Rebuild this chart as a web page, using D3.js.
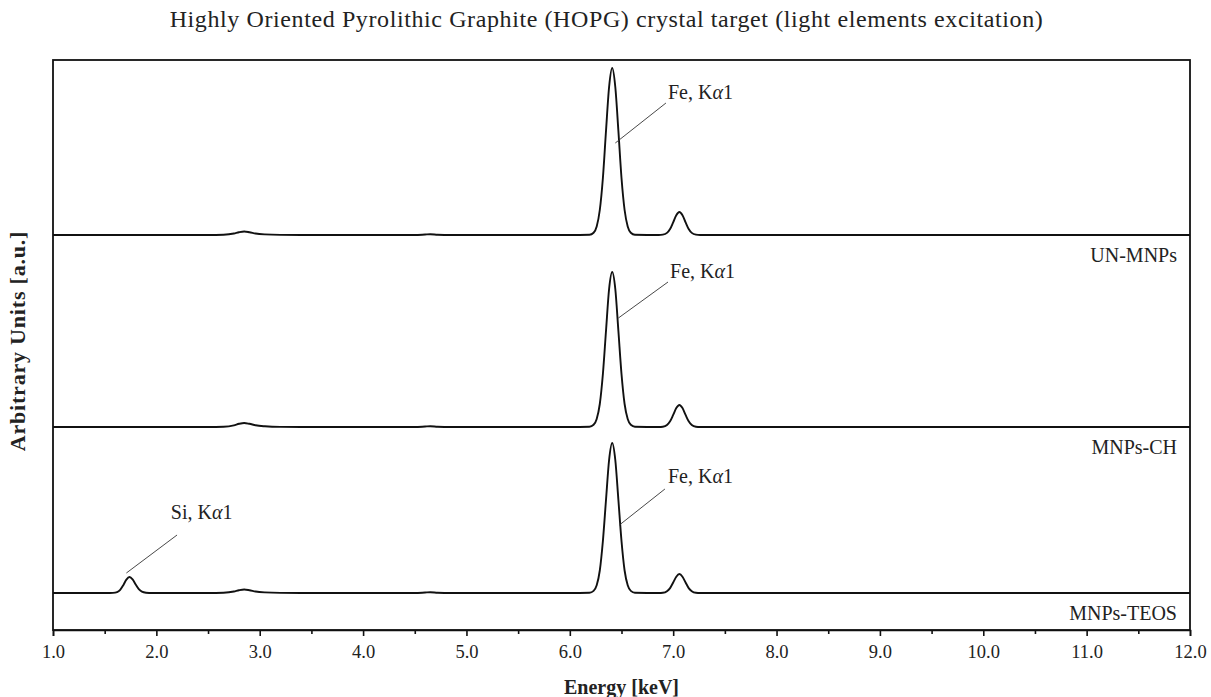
<!DOCTYPE html>
<html>
<head>
<meta charset="utf-8">
<script src="https://cdn.jsdelivr.net/npm/d3@7"></script>
<style>
  body { margin: 0; background: #fff; }
  svg text { font-family: "Liberation Serif", "DejaVu Serif", serif; fill: #222; }
  .axis text { font-size: 18.5px; }
  .axis path, .axis line { stroke: #111; stroke-width: 1.6; }
  .spectrum { fill: none; stroke: #111; stroke-width: 1.9; }
  .leader { stroke: #333; stroke-width: 0.9; }
</style>
</head>
<body>
<div id="chart"></div>
<script>
// energy axis ticks (keV)
const majorTicks = [1, 2, 3, 4, 5, 6, 7, 8, 9, 10, 11, 12];
const minorTicks = [1.5, 2.5, 3.5, 4.5, 5.5, 6.5, 7.5, 8.5, 9.5, 10.5, 11.5];

// sample names, stacking offsets (a.u.)
const sampleNames = ['UN-MNPs', 'MNPs-CH', 'MNPs-TEOS'];
const sampleOffsets = [395, 203, 37];

// spectra: [energy keV, intensity a.u. above own baseline]
const specUN = [
  [1.0, 0], [2.5, 0], [2.65, 0.3], [2.75, 1.5], [2.8, 2.8], [2.85, 3.5], [2.9, 2.8], [2.96, 1.5],
  [3.05, 0.6], [3.2, 0.1], [3.4, 0], [4.5, 0], [4.6, 0.5], [4.65, 0.8], [4.72, 0.3], [4.85, 0],
  [6.0, 0], [6.19, 0.3], [6.23, 2.3], [6.26, 8.6], [6.29, 25], [6.32, 57], [6.35, 104], [6.38, 148],
  [6.41, 167], [6.44, 148], [6.47, 104], [6.50, 57], [6.53, 25], [6.56, 8.6], [6.59, 2.3], [6.63, 0.3],
  [6.86, 0], [6.90, 0.35], [6.94, 2.1], [6.97, 6], [7.00, 12.7], [7.03, 19.8], [7.06, 23], [7.09, 19.8],
  [7.12, 12.7], [7.15, 6], [7.18, 2.1], [7.22, 0.35], [7.26, 0], [12.0, 0]
];
const specCH = [
  [1.0, 0], [2.5, 0], [2.65, 0.3], [2.75, 1.7], [2.8, 3.2], [2.85, 4], [2.9, 3.2], [2.96, 1.7],
  [3.05, 0.7], [3.2, 0.1], [3.4, 0], [4.5, 0], [4.6, 0.5], [4.65, 0.8], [4.72, 0.3], [4.85, 0],
  [6.0, 0], [6.19, 0.3], [6.23, 2.2], [6.26, 8], [6.29, 23], [6.32, 53], [6.35, 96], [6.38, 138],
  [6.41, 155], [6.44, 138], [6.47, 96], [6.50, 53], [6.53, 23], [6.56, 8], [6.59, 2.2], [6.63, 0.3],
  [6.86, 0], [6.90, 0.3], [6.94, 2.0], [6.97, 5.7], [7.00, 12.1], [7.03, 18.9], [7.06, 22], [7.09, 18.9],
  [7.12, 12.1], [7.15, 5.7], [7.18, 2.0], [7.22, 0.3], [7.26, 0], [12.0, 0]
];
const specTEOS = [
  [1.0, 0], [1.55, 0], [1.58, 0.1], [1.62, 0.9], [1.65, 3.2], [1.68, 7.8], [1.71, 13.4], [1.74, 16],
  [1.77, 13.6], [1.80, 8.5], [1.83, 3.8], [1.86, 1.3], [1.90, 0.3], [1.96, 0],
  [2.5, 0], [2.65, 0.3], [2.75, 1.5], [2.8, 2.8], [2.85, 3.5], [2.9, 2.8], [2.96, 1.5],
  [3.05, 0.6], [3.2, 0.1], [3.4, 0], [4.5, 0], [4.6, 0.5], [4.65, 0.8], [4.72, 0.3], [4.85, 0],
  [6.0, 0], [6.19, 0.3], [6.23, 2.1], [6.26, 7.7], [6.29, 22.5], [6.32, 52], [6.35, 93], [6.38, 133],
  [6.41, 150], [6.44, 133], [6.47, 93], [6.50, 52], [6.53, 22.5], [6.56, 7.7], [6.59, 2.1], [6.63, 0.3],
  [6.86, 0], [6.90, 0.25], [6.94, 1.8], [6.97, 4.9], [7.00, 10.5], [7.03, 16.3], [7.06, 19], [7.09, 16.3],
  [7.12, 10.5], [7.15, 4.9], [7.18, 1.8], [7.22, 0.25], [7.26, 0], [12.0, 0]
];
const spectra = [specUN, specCH, specTEOS];

// peak annotations: element, text anchor [keV, a.u.], leader from -> to [keV, a.u.]
const peakElements = ['Fe', 'Fe', 'Fe', 'Si'];
const peakText = [[6.95, 531], [6.97, 352], [6.95, 147], [2.14, 111]];
const peakLeaderFrom = [[6.93, 527], [6.95, 348], [6.92, 141], [2.20, 95]];
const peakLeaderTo = [[6.44, 487], [6.47, 312], [6.48, 105], [1.71, 57]];

const config = {
  containerWidth: 1211,
  containerHeight: 697,
  margin: {top: 60, right: 21, bottom: 67, left: 53}
};

const width = config.containerWidth - config.margin.left - config.margin.right;
const height = config.containerHeight - config.margin.top - config.margin.bottom;

const svg = d3.select('#chart').append('svg')
    .attr('width', config.containerWidth)
    .attr('height', config.containerHeight);

const chart = svg.append('g')
    .attr('transform', `translate(${config.margin.left},${config.margin.top})`);

const xScale = d3.scaleLinear().domain([1, 12]).range([0, width]);
const yScale = d3.scaleLinear().domain([0, 570]).range([height, 0]);

// title
svg.append('text')
    .attr('x', config.margin.left + width / 2 - 15)
    .attr('y', 27)
    .attr('text-anchor', 'middle')
    .style('font-size', '24px')
    .style('letter-spacing', '0.6px')
    .text('Highly Oriented Pyrolithic Graphite (HOPG) crystal target (light elements excitation)');

// axes
const xAxis = d3.axisBottom(xScale)
    .tickValues(majorTicks)
    .tickSize(6)
    .tickPadding(9)
    .tickFormat(d3.format('.1f'));

const xMinor = d3.axisBottom(xScale)
    .tickValues(minorTicks)
    .tickSize(4)
    .tickFormat('');

chart.append('g')
    .attr('class', 'axis x-axis')
    .attr('transform', `translate(0,${height})`)
    .call(xAxis);

chart.append('g')
    .attr('class', 'axis x-minor')
    .attr('transform', `translate(0,${height})`)
    .call(xMinor)
    .call(g => g.select('.domain').remove());

// frame
chart.append('rect')
    .attr('width', width)
    .attr('height', height)
    .attr('fill', 'none')
    .attr('stroke', '#111')
    .attr('stroke-width', 1.8);

// axis titles
svg.append('text')
    .attr('x', config.margin.left + width / 2)
    .attr('y', 694)
    .attr('text-anchor', 'middle')
    .style('font-size', '20px')
    .style('font-weight', 'bold')
    .text('Energy [keV]');

svg.append('text')
    .attr('transform', `translate(25,${config.margin.top + height / 2 - 4}) rotate(-90)`)
    .attr('text-anchor', 'middle')
    .style('font-size', '22px')
    .style('font-weight', 'bold')
    .style('letter-spacing', '0.8px')
    .text('Arbitrary Units [a.u.]');

// spectra
const line = d3.line()
    .x(d => xScale(d[0]))
    .y(d => yScale(d[1]))
    .curve(d3.curveMonotoneX);

chart.selectAll('.spectrum')
    .data(spectra)
    .join('path')
    .attr('class', 'spectrum')
    .attr('d', (d, i) => line(d.map(p => [p[0], p[1] + sampleOffsets[i]])));

// sample names under each baseline
chart.selectAll('.sample-name')
    .data(sampleNames)
    .join('text')
    .attr('class', 'sample-name')
    .attr('x', width - 13)
    .attr('y', (d, i) => yScale(sampleOffsets[i]) + 27)
    .attr('text-anchor', 'end')
    .style('font-size', '20px')
    .text(d => d);

// peak annotations
chart.selectAll('.leader')
    .data(peakElements)
    .join('line')
    .attr('class', 'leader')
    .attr('x1', (d, i) => xScale(peakLeaderFrom[i][0]))
    .attr('y1', (d, i) => yScale(peakLeaderFrom[i][1]))
    .attr('x2', (d, i) => xScale(peakLeaderTo[i][0]))
    .attr('y2', (d, i) => yScale(peakLeaderTo[i][1]));

const peakLabel = chart.selectAll('.peak-label')
    .data(peakElements)
    .join('text')
    .attr('class', 'peak-label')
    .attr('x', (d, i) => xScale(peakText[i][0]))
    .attr('y', (d, i) => yScale(peakText[i][1]))
    .style('font-size', '20px');

peakLabel.append('tspan').text(d => `${d}, K`);
peakLabel.append('tspan').style('font-style', 'italic').text('\u03b1');
peakLabel.append('tspan').text('1');
</script>
</body>
</html>
